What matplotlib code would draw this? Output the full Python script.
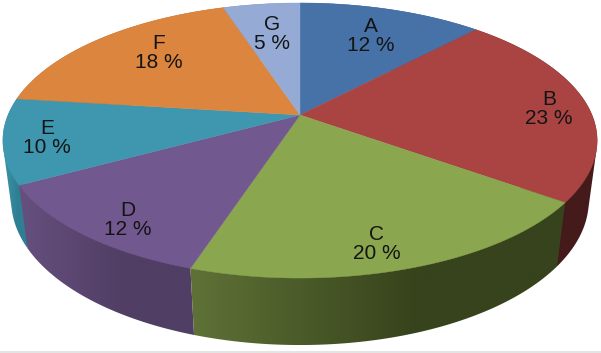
import numpy as np
from matplotlib import pyplot as plt
from matplotlib.colors import LinearSegmentedColormap
from matplotlib.patches import Polygon

plt.rcParams['font.family'] = ['Liberation Sans', 'DejaVu Sans']

# data
kategoriler = ['A', 'B', 'C', 'D', 'E', 'F', 'G']
degerler = [12, 23, 20, 12, 10, 18, 5]

# colours
ust_renk = ['#4672A8', '#A94442', '#8AA64F', '#71588F', '#3F97AF', '#DC853E', '#95ABD5']
yan_sol = ['#2F4D72', '#5A2120', '#5F7236', '#66507F', '#3F93A8', '#9A5C28', '#62728F']
yan_sag = ['#2F4D72', '#451A1A', '#37431C', '#503E64', '#2F7F94', '#9A5C28', '#62728F']

# label centres in pixels
etiket_x = [371, 549, 377, 128, 47, 159, 272]
etiket_y = [36, 109, 244, 220, 138, 53, 34]

# perspective of the disc
merkez_x, merkez_y = 300, 115
a, b, k = 292, 132.8, 0.1855
c, m = 61, 0.028


def izdusum(aci, z):
    # aci: clockwise from top, z=0 top rim, z=1 bottom rim
    u = np.sin(aci)
    v = np.cos(aci)
    w = 1 + k * v + m * z
    return merkez_x + a * u / w, merkez_y - (b * v - c * z) / w


def kabuk(noktalar):
    # convex hull, the wall outline crosses itself at the sides of the disc
    noktalar = sorted(map(tuple, noktalar))
    alt = []
    for p in noktalar:
        while len(alt) > 1 and np.cross(np.subtract(alt[-1], alt[-2]), np.subtract(p, alt[-2])) <= 0:
            alt.pop()
        alt.append(p)
    ust = []
    for p in noktalar[::-1]:
        while len(ust) > 1 and np.cross(np.subtract(ust[-1], ust[-2]), np.subtract(p, ust[-2])) <= 0:
            ust.pop()
        ust.append(p)
    return np.array(alt[:-1] + ust[:-1])


fig = plt.figure(figsize=(6.01, 3.53), dpi=100)
ax = fig.add_axes([0, 0, 1, 1])
ax.axis('off')

sinirlar = np.cumsum([0] + degerler) / sum(degerler) * 2 * np.pi
orta = (sinirlar[:-1] + sinirlar[1:]) / 2

# side wall, back to front, gradient runs left to right on screen
for i in np.argsort(-np.cos(orta)):
    acilar = np.linspace(sinirlar[i], sinirlar[i + 1], 120)
    x1, y1 = izdusum(acilar, 0)
    x2, y2 = izdusum(acilar, 1)
    sinir = kabuk(np.c_[np.r_[x1, x2], np.r_[y1, y2]])
    kose = Polygon(sinir, closed=True, transform=ax.transData,
                   facecolor='none', edgecolor='none')
    ax.add_patch(kose)
    renk = LinearSegmentedColormap.from_list(
        'yan', [(0, yan_sol[i]), (0.6, yan_sag[i]), (1, yan_sag[i])])
    resim = ax.imshow(np.linspace(0, 1, 256).reshape(1, -1), cmap=renk, aspect='auto',
                      extent=(sinir[:, 0].min(), sinir[:, 0].max(), sinir[:, 1].max(), sinir[:, 1].min()),
                      interpolation='bilinear')
    resim.set_clip_path(kose)

# top face
for i in range(len(degerler)):
    acilar = np.linspace(sinirlar[i], sinirlar[i + 1], 120)
    x, y = izdusum(acilar, 0)
    ax.fill(np.r_[merkez_x, x], np.r_[merkez_y, y], facecolor=ust_renk[i],
            edgecolor=ust_renk[i], linewidth=0.3)

# labels
for i in range(len(degerler)):
    ax.text(etiket_x[i], etiket_y[i], f'{kategoriler[i]}\n{degerler[i]} %',
            ha='center', va='center', fontsize=15, color='#141414',
            linespacing=1.05)

# thin grey line at the bottom of the picture
ax.axhline(352, color='#E4E4E4', linewidth=1.5)

ax.set_xlim(0, 601)
ax.set_ylim(353, 0)
fig.savefig('out.png', dpi=100)
